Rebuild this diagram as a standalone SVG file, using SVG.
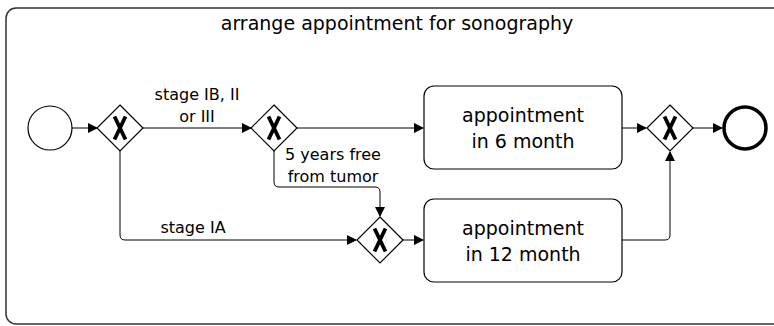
<svg xmlns="http://www.w3.org/2000/svg" width="774" height="326" viewBox="0 0 774 326">
<defs>
<style>
.lbl{font-family:"DejaVu Sans",sans-serif;font-size:16px;fill:#000;text-anchor:middle}
.big{font-family:"DejaVu Sans",sans-serif;font-size:19px;fill:#000;text-anchor:middle}
.shape{fill:#fff;stroke:#000;stroke-width:1.2}
.con{fill:none;stroke:#000;stroke-width:1}
.x{fill:none;stroke:#000;stroke-width:3.8;stroke-linecap:butt}
</style>
<marker id="arr" markerWidth="10" markerHeight="10" refX="9" refY="5" orient="auto" markerUnits="userSpaceOnUse">
<path d="M0,0 L10,5 L0,10 z" fill="#000"/>
</marker>
<g id="xmark"><path class="x" d="M-5.5,-11.5 Q0,0 5.5,11.5 M5.5,-11.5 Q0,0 -5.5,11.5"/></g>
</defs>
<rect x="0" y="0" width="774" height="326" fill="#fff"/>
<g id="container">
<rect x="6" y="8" width="790" height="316" rx="10" ry="10" fill="#fff" stroke="#333" stroke-width="1.5"/>
<text class="big" x="397" y="30">arrange appointment for sonography</text>
</g>
<g id="connectors">
<path class="con" d="M72,128 L97,128" marker-end="url(#arr)"/>
<path class="con" d="M143,128 L251,128" marker-end="url(#arr)"/>
<path class="con" d="M297,128 L423,128" marker-end="url(#arr)"/>
<path class="con" d="M274,151 L274,182 Q274,187 279,187 L375,187 Q380,187 380,192 L380,216" marker-end="url(#arr)"/>
<path class="con" d="M120,151 L120,235 Q120,240 125,240 L356,240" marker-end="url(#arr)"/>
<path class="con" d="M403,240 L423,240" marker-end="url(#arr)"/>
<path class="con" d="M622,128 L646,128" marker-end="url(#arr)"/>
<path class="con" d="M622,240 L665,240 Q670,240 670,235 L670,152" marker-end="url(#arr)"/>
<path class="con" d="M693,128 L722,128" marker-end="url(#arr)"/>
<text class="lbl" x="197" y="100">stage IB, II</text>
<text class="lbl" x="197" y="122">or III</text>
<text class="lbl" x="333" y="160">5 years free</text>
<text class="lbl" x="333" y="182">from tumor</text>
<text class="lbl" x="193" y="233">stage IA</text>
</g>
<g id="start"><circle class="shape" cx="50" cy="128" r="22"/></g>
<g id="gw1"><path class="shape" d="M120,105 L143,128 L120,151 L97,128 z"/><use href="#xmark" x="120" y="128"/></g>
<g id="gw2"><path class="shape" d="M274,105 L297,128 L274,151 L251,128 z"/><use href="#xmark" x="274" y="128"/></g>
<g id="gw3"><path class="shape" d="M380,217 L403,240 L380,263 L357,240 z"/><use href="#xmark" x="380" y="240"/></g>
<g id="task1"><rect class="shape" x="424" y="86" width="198" height="83" rx="10" ry="10"/><text class="big" x="523" y="122">appointment</text><text class="big" x="523" y="148">in 6 month</text></g>
<g id="task2"><rect class="shape" x="424" y="199" width="198" height="83" rx="10" ry="10"/><text class="big" x="523" y="235">appointment</text><text class="big" x="523" y="261">in 12 month</text></g>
<g id="gw4"><path class="shape" d="M670,105 L693,128 L670,151 L647,128 z"/><use href="#xmark" x="670" y="128"/></g>
<g id="end"><circle cx="745" cy="128" r="21" fill="#fff" stroke="#000" stroke-width="3.5"/></g>
</svg>
